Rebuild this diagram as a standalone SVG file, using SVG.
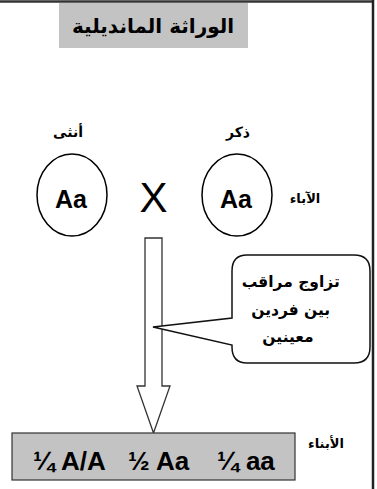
<svg xmlns="http://www.w3.org/2000/svg" width="377" height="489" viewBox="0 0 377 489">
<style>
.ar{font-family:"DejaVu Sans","Liberation Sans",sans-serif;font-weight:bold;fill:#000}
.la{font-family:"Liberation Sans",Arial,sans-serif;font-weight:bold;fill:#000}
.ln{fill:none;stroke:#000;stroke-width:1.5}
.gray{fill:#c3c3c3}
</style>
<rect x="0" y="0" width="377" height="489" fill="#fff"/>
<g id="frame">
<line x1="0" y1="1.5" x2="374" y2="1.5" stroke="#333" stroke-width="2.5"/>
<line x1="373" y1="0" x2="373" y2="489" stroke="#222" stroke-width="2.5"/>
</g>
<g id="title">
<rect x="59" y="3" width="189" height="45" class="gray"/>
<text x="153" y="33" class="ar" font-size="20" text-anchor="middle" direction="rtl">الوراثة المانديلية</text>
</g>
<g id="female">
<text x="68" y="137" class="ar" font-size="14" text-anchor="middle" direction="rtl">أنثى</text>
<ellipse cx="72" cy="195" rx="35" ry="41" class="ln"/>
<text x="71" y="208" class="la" font-size="25" text-anchor="middle">Aa</text>
</g>
<g id="cross">
<text x="153.5" y="212" font-family="Liberation Sans,sans-serif" font-size="42" text-anchor="middle">X</text>
</g>
<g id="male">
<text x="238" y="137" class="ar" font-size="14" text-anchor="middle" direction="rtl">ذكر</text>
<ellipse cx="237" cy="195" rx="35" ry="41" class="ln"/>
<text x="236" y="208" class="la" font-size="25" text-anchor="middle">Aa</text>
</g>
<g id="parents-label">
<text x="305" y="203" class="ar" font-size="13" text-anchor="middle" direction="rtl">الآباء</text>
</g>
<g id="connectors">
<path d="M145,238 H162 V386 H170 L153.5,433 L137,386 H145 Z" fill="#fff" stroke="#333" stroke-width="1.3"/>
</g>
<g id="callout">
<path d="M247,255 H354 Q370,255 370,271 V347 Q370,363 354,363 H247 Q232,363 232,347 V345 L153,327 L232,318 V271 Q232,255 247,255 Z" fill="#fff" stroke="#111" stroke-width="1.5"/>
<text class="ar" font-size="15.5" text-anchor="middle" direction="rtl">
<tspan x="288" y="287">تزاوج مراقب</tspan>
<tspan x="288" y="315">بين فردين</tspan>
<tspan x="288" y="342">معينين</tspan>
</text>
</g>
<g id="offspring">
<rect x="12" y="433" width="283" height="47" class="gray" stroke="#333" stroke-width="1.2"/>
<text y="470" class="la" font-size="26"><tspan x="33">¼ A/A</tspan><tspan x="128">½ Aa</tspan><tspan x="217">¼ aa</tspan></text>
</g>
<g id="offspring-label">
<text x="326" y="448" class="ar" font-size="13" text-anchor="middle" direction="rtl">الأبناء</text>
</g>
</svg>
